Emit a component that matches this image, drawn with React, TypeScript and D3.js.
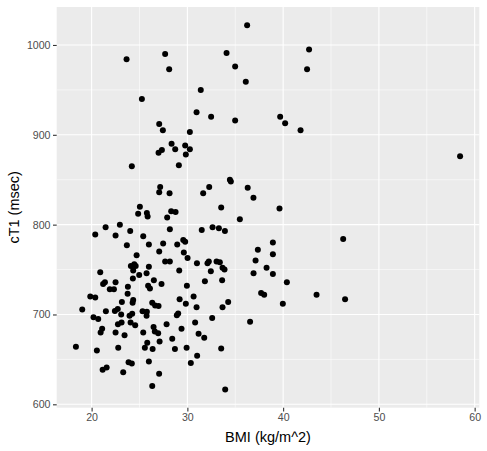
import React, { useEffect, useRef } from "react";
import * as d3 from "d3";

// BMI (kg/m^2)
const bmi = [
  23.65, 27.68, 28.1, 25.25, 31.4, 30.96, 32.48, 27.06, 27.44, 30.26,
  28.35, 26.99, 27.34, 28.73, 29.77, 30.26, 29.84, 29.11, 24.2, 34.09,
  34.99, 36.1, 34.99, 36.24, 27.16, 27.06, 28.14, 31.65, 32.28, 34.44,
  34.54, 36.3, 33.53, 25.04, 24.86, 25.77, 25.85, 28.31, 28.77, 27.89,
  35.48, 42.71, 42.5, 39.69, 40.21, 41.82, 58.48, 36.9, 39.62,
  21.46, 22.95, 20.38, 22.5, 24.03, 25.39, 23.68, 25.98, 27.06, 24.7,
  24.45, 24.1, 24.6, 25.98, 24.34, 24.97, 25.74, 20.9, 24.31, 22.5,
  21.39, 21.2, 26.5, 23.79, 21.9, 22.33, 25.9, 26.09, 23.76, 19.86,
  20.38, 23.16, 24.34, 24.28, 26.33, 19.02, 22.73,
  28.17, 31.5, 32.63, 33.29, 33.92, 27.47, 28.94, 29.57, 29.77, 29.63,
  30.02, 27.68, 28.17, 31.0, 32.1, 32.24, 33.05, 33.39, 33.67, 33.88,
  29.15, 32.45, 31.83, 33.63, 27.3, 29.95, 30.65, 29.19, 29.84, 26.63,
  26.99, 34.26, 33.67, 30.96,
  38.93, 37.36, 38.93, 37.12, 38.27, 36.91, 38.93, 40.39, 37.7, 38.02,
  43.49, 46.47, 39.97, 46.27,
  21.49, 22.43, 20.2, 20.69, 23.09, 23.96, 24.24, 25.32, 25.77, 25.74,
  22.75, 23.13, 21.1, 20.94, 22.5, 23.44, 24.07, 24.55, 25.39, 26.6,
  26.95, 27.1, 25.81, 25.56, 26.37, 18.36, 20.55, 22.78, 25.98, 23.86,
  24.2, 21.57, 21.15, 23.3, 27.05, 26.33,
  29.04, 28.9, 32.59, 36.55, 30.81, 27.83, 26.47, 29.39, 31.17, 31.76,
  28.42, 28.7, 29.92, 33.53, 31.02, 30.36, 33.95,
];

// cT1 (msec), same order as bmi
const ct1 = [
  984, 990, 973, 940, 950, 925, 920, 912, 905, 903,
  890, 880, 883, 884, 888, 884, 878, 866, 865, 991,
  976, 959, 916, 1022, 842, 836, 835, 835, 842, 850,
  848, 841, 819, 820, 812, 813, 809, 815, 814, 808,
  806, 995, 973, 920, 913, 905, 876, 830, 818,
  797, 800, 789, 788, 793, 787, 777, 778, 770, 766,
  756, 754, 754, 753, 749, 744, 746, 747, 740, 736,
  736, 734, 738, 731, 728, 728, 732, 729, 723, 720,
  719, 714, 716, 713, 713, 705.5, 706,
  795, 794, 797, 796, 793, 779, 778, 783, 781, 769,
  763, 759, 759, 757, 757, 759, 759, 758, 752, 750,
  749, 748, 737, 738, 734, 732, 720, 717, 712, 710,
  709.5, 714, 708, 708,
  780, 772, 767, 760, 752, 746, 745, 736, 724, 722,
  722, 717, 712, 784,
  703.5, 704, 697, 695, 700, 698.5, 700.7, 703.5, 703, 698.5,
  689, 691, 684, 680, 680, 677, 691, 688, 680, 681,
  679, 670, 668.5, 663, 661.5, 664, 660, 663, 647.6, 646.7,
  645.3, 641, 638.6, 635.7, 634, 620.5,
  701, 699, 696, 692, 691, 689, 686, 684, 678.5, 674,
  673, 661.5, 663, 662, 654, 646, 616.5,
];

const xTicks = [20, 30, 40, 50, 60];
const xMinor = [25, 35, 45, 55];
const yTicks = [600, 700, 800, 900, 1000];
const yMinor = [650, 750, 850, 950];

const App = () => {
  const chartRef = useRef<HTMLDivElement>(null);

  useEffect(() => {
    document.body.style.margin = "0";
    drawChart();
  }, []);

  const drawChart = () => {
    const width = 487;
    const height = 451;
    const panel = { left: 56.7, right: 479.3, top: 7, bottom: 407.7 };
    const font = "'Liberation Sans', Arial, Helvetica, sans-serif";

    d3.select(chartRef.current).select("svg").remove();

    const svg = d3
      .select(chartRef.current)
      .append("svg")
      .attr("width", width)
      .attr("height", height)
      .style("display", "block")
      .style("background", "#fff");

    // ggplot style 5% expansion on both axes
    const expand = (ext: [number, number]) => {
      const pad = (ext[1] - ext[0]) * 0.05;
      return [ext[0] - pad, ext[1] + pad];
    };

    const x = d3
      .scaleLinear()
      .domain(expand(d3.extent(bmi) as [number, number]))
      .range([panel.left, panel.right]);

    const y = d3
      .scaleLinear()
      .domain(expand(d3.extent(ct1) as [number, number]))
      .range([panel.bottom, panel.top]);

    // Panel background
    svg
      .append("rect")
      .attr("x", panel.left)
      .attr("y", panel.top)
      .attr("width", panel.right - panel.left)
      .attr("height", panel.bottom - panel.top)
      .attr("fill", "#EBEBEB");

    const grid = svg.append("g");

    // Minor grid lines
    grid
      .selectAll(".xminor")
      .data(xMinor)
      .enter()
      .append("line")
      .attr("x1", (d) => x(d))
      .attr("x2", (d) => x(d))
      .attr("y1", panel.top)
      .attr("y2", panel.bottom)
      .attr("stroke", "#fff")
      .attr("stroke-width", 0.55);

    grid
      .selectAll(".yminor")
      .data(yMinor)
      .enter()
      .append("line")
      .attr("y1", (d) => y(d))
      .attr("y2", (d) => y(d))
      .attr("x1", panel.left)
      .attr("x2", panel.right)
      .attr("stroke", "#fff")
      .attr("stroke-width", 0.55);

    // Major grid lines
    grid
      .selectAll(".xmajor")
      .data(xTicks)
      .enter()
      .append("line")
      .attr("x1", (d) => x(d))
      .attr("x2", (d) => x(d))
      .attr("y1", panel.top)
      .attr("y2", panel.bottom)
      .attr("stroke", "#fff")
      .attr("stroke-width", 1.1);

    grid
      .selectAll(".ymajor")
      .data(yTicks)
      .enter()
      .append("line")
      .attr("y1", (d) => y(d))
      .attr("y2", (d) => y(d))
      .attr("x1", panel.left)
      .attr("x2", panel.right)
      .attr("stroke", "#fff")
      .attr("stroke-width", 1.1);

    // Points
    svg
      .append("g")
      .selectAll("circle")
      .data(d3.range(bmi.length))
      .enter()
      .append("circle")
      .attr("cx", (i) => x(bmi[i]))
      .attr("cy", (i) => y(ct1[i]))
      .attr("r", 3)
      .attr("fill", "#000");

    // X axis
    const xAxis = svg
      .append("g")
      .attr("transform", `translate(0,${panel.bottom})`)
      .call(
        d3
          .axisBottom(x)
          .tickValues(xTicks)
          .tickFormat(d3.format("d"))
          .tickSize(3.7)
          .tickPadding(2.5)
      );
    xAxis.select(".domain").remove();
    xAxis.selectAll("line").attr("stroke", "#333").attr("stroke-width", 1.1);
    xAxis
      .selectAll("text")
      .attr("fill", "#4D4D4D")
      .style("font-family", font)
      .style("font-size", "10.6px");

    // Y axis
    const yAxis = svg
      .append("g")
      .attr("transform", `translate(${panel.left},0)`)
      .call(
        d3
          .axisLeft(y)
          .tickValues(yTicks)
          .tickFormat(d3.format("d"))
          .tickSize(3.7)
          .tickPadding(2.5)
      );
    yAxis.select(".domain").remove();
    yAxis.selectAll("line").attr("stroke", "#333").attr("stroke-width", 1.1);
    yAxis
      .selectAll("text")
      .attr("fill", "#4D4D4D")
      .style("font-family", font)
      .style("font-size", "10.6px");

    // Axis titles
    svg
      .append("text")
      .attr("x", (panel.left + panel.right) / 2)
      .attr("y", 442)
      .style("text-anchor", "middle")
      .style("font-family", font)
      .style("font-size", "14.5px")
      .attr("fill", "#000")
      .text("BMI (kg/m^2)");

    svg
      .append("text")
      .attr("transform", `translate(19,${(panel.top + panel.bottom) / 2}) rotate(-90)`)
      .style("text-anchor", "middle")
      .style("font-family", font)
      .style("font-size", "14.5px")
      .attr("fill", "#000")
      .text("cT1 (msec)");
  };

  return <div ref={chartRef}></div>;
};

export default App;
